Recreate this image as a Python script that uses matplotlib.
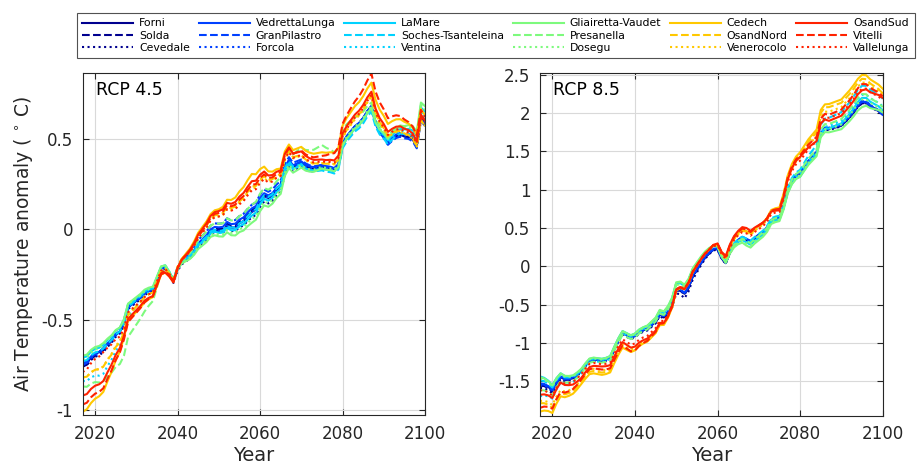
import numpy as np
import matplotlib
matplotlib.use("Agg")
import matplotlib.pyplot as plt
from matplotlib.ticker import FormatStrFormatter

plt.rcParams["font.family"] = ["DejaVu Sans"]
plt.rcParams["axes.unicode_minus"] = False

years = np.arange(2017, 2101)

glaciers = ["Forni", "Solda", "Cevedale",
            "VedrettaLunga", "GranPilastro", "Forcola",
            "LaMare", "Soches-Tsanteleina", "Ventina",
            "Gliairetta-Vaudet", "Presanella", "Dosegu",
            "Cedech", "OsandNord", "Venerocolo",
            "OsandSud", "Vitelli", "Vallelunga"]

# regional mean anomaly, one value per year 2017..2100
base_rcp45 = [
    -0.80, -0.79, -0.76, -0.74, -0.73, -0.71, -0.68, -0.655, -0.62, -0.60,
    -0.55, -0.46, -0.44, -0.42, -0.40, -0.375, -0.36, -0.35, -0.29, -0.23,
    -0.22, -0.25, -0.29, -0.22, -0.18, -0.16, -0.14, -0.11, -0.07, -0.045,
    -0.02, 0.015, 0.03, 0.03, 0.035, 0.065, 0.055, 0.06, 0.085, 0.10,
    0.13, 0.155, 0.165, 0.205, 0.23, 0.215, 0.225, 0.25, 0.265, 0.36,
    0.40, 0.37, 0.38, 0.39, 0.37, 0.36, 0.355, 0.36, 0.365, 0.36,
    0.36, 0.355, 0.38, 0.50, 0.54, 0.57, 0.60, 0.62, 0.65, 0.69,
    0.72, 0.63, 0.58, 0.55, 0.51, 0.53, 0.545, 0.55, 0.54, 0.535,
    0.52, 0.48, 0.63, 0.60]

base_rcp85 = [
    -1.67, -1.67, -1.69, -1.73, -1.62, -1.54, -1.56, -1.55, -1.53, -1.48,
    -1.42, -1.35, -1.29, -1.28, -1.29, -1.30, -1.29, -1.27, -1.15, -1.04,
    -0.95, -0.98, -1.01, -0.99, -0.94, -0.91, -0.89, -0.84, -0.79, -0.69,
    -0.70, -0.62, -0.50, -0.29, -0.27, -0.30, -0.22, -0.08, 0.00, 0.08,
    0.15, 0.20, 0.25, 0.26, 0.14, 0.08, 0.22, 0.32, 0.38, 0.42,
    0.40, 0.37, 0.42, 0.46, 0.50, 0.56, 0.66, 0.68, 0.69, 0.85,
    1.07, 1.20, 1.28, 1.32, 1.40, 1.48, 1.54, 1.60, 1.85, 1.92,
    1.92, 1.94, 1.96, 1.98, 2.04, 2.10, 2.17, 2.25, 2.30, 2.30,
    2.25, 2.22, 2.19, 2.14]

# site departures from the regional mean at reference years
anchor_rcp45 = [2017, 2022, 2027, 2032, 2037, 2045, 2050, 2058, 2065, 2075, 2087, 2100]
dev_rcp45 = {
    "Forni":              [0.05, 0.05, 0.03, 0.02, 0.01, -0.02, -0.04, -0.06, -0.03, -0.02, -0.04, -0.01],
    "Solda":              [0.04, 0.04, 0.03, 0.02, 0.01, -0.01, -0.03, -0.05, -0.02, -0.02, -0.04, -0.02],
    "Cevedale":           [0.04, 0.03, 0.02, 0.01, 0.00, -0.03, -0.05, -0.09, -0.06, -0.03, -0.05, -0.02],
    "VedrettaLunga":      [0.06, 0.05, 0.03, 0.02, 0.01, -0.01, -0.02, -0.04, -0.02, -0.01, -0.04, 0.00],
    "GranPilastro":       [0.05, 0.05, 0.03, 0.02, 0.01, 0.01, 0.00, -0.02, 0.00, -0.01, -0.05, -0.03],
    "Forcola":            [0.05, 0.04, 0.03, 0.02, 0.01, -0.02, -0.04, -0.06, -0.03, -0.02, -0.04, -0.01],
    "LaMare":             [0.09, 0.07, 0.05, 0.03, 0.02, -0.02, -0.05, -0.08, -0.04, -0.03, -0.05, 0.05],
    "Soches-Tsanteleina": [0.07, 0.05, 0.03, 0.03, 0.01, -0.01, -0.04, -0.06, -0.02, -0.04, -0.07, 0.02],
    "Ventina":            [-0.04, -0.09, -0.03, 0.01, 0.01, -0.02, -0.05, -0.08, -0.04, -0.03, -0.05, 0.03],
    "Gliairetta-Vaudet":  [0.10, 0.08, 0.05, 0.04, 0.02, -0.04, -0.07, -0.12, -0.07, -0.03, -0.05, 0.08],
    "Presanella":         [-0.07, -0.13, -0.15, -0.08, 0.00, 0.01, 0.00, -0.02, 0.02, 0.10, -0.02, 0.06],
    "Dosegu":             [0.08, 0.07, 0.05, 0.03, 0.02, -0.03, -0.06, -0.10, -0.05, -0.02, -0.04, 0.06],
    "Cedech":             [-0.21, -0.19, -0.05, -0.03, -0.02, 0.05, 0.08, 0.15, 0.07, 0.06, 0.09, 0.03],
    "OsandNord":          [-0.02, -0.05, -0.02, 0.00, 0.00, 0.03, 0.05, 0.08, 0.04, 0.00, 0.02, -0.03],
    "Venerocolo":         [-0.02, -0.05, -0.01, 0.00, 0.00, 0.03, 0.04, 0.07, 0.03, 0.00, 0.01, -0.03],
    "OsandSud":           [-0.12, -0.13, -0.04, -0.02, -0.02, 0.04, 0.07, 0.11, 0.06, 0.02, 0.04, 0.00],
    "Vitelli":            [-0.17, -0.17, -0.06, -0.03, -0.01, 0.03, 0.06, 0.09, 0.05, 0.04, 0.14, 0.02],
    "Vallelunga":         [0.01, 0.03, 0.00, 0.00, 0.00, 0.02, 0.04, 0.06, 0.03, 0.01, 0.02, -0.01],
}

anchor_rcp85 = [2017, 2022, 2027, 2032, 2040, 2046, 2052, 2058, 2067, 2075, 2080, 2087, 2095, 2100]
dev_rcp85 = {
    "Forni":              [0.13, 0.09, 0.05, 0.07, 0.08, 0.06, -0.06, -0.03, -0.05, -0.07, -0.10, -0.12, -0.16, -0.15],
    "Solda":              [0.11, 0.08, 0.05, 0.06, 0.07, 0.05, -0.07, -0.03, -0.05, -0.07, -0.11, -0.13, -0.17, -0.16],
    "Cevedale":           [0.08, 0.06, 0.04, 0.05, 0.06, 0.04, -0.12, -0.04, -0.06, -0.08, -0.12, -0.14, -0.17, -0.17],
    "VedrettaLunga":      [0.14, 0.10, 0.06, 0.07, 0.08, 0.07, -0.05, -0.02, -0.04, -0.06, -0.10, -0.12, -0.15, -0.16],
    "GranPilastro":       [0.13, 0.09, 0.05, 0.07, 0.08, 0.07, -0.05, -0.02, -0.04, -0.06, -0.09, -0.11, -0.14, -0.15],
    "Forcola":            [0.12, 0.09, 0.05, 0.06, 0.08, 0.06, -0.06, -0.03, -0.05, -0.07, -0.10, -0.12, -0.15, -0.16],
    "LaMare":             [0.23, 0.14, 0.07, 0.09, 0.11, 0.11, 0.05, 0.03, -0.09, -0.08, -0.15, -0.12, -0.10, -0.10],
    "Soches-Tsanteleina": [0.18, 0.12, 0.06, 0.08, 0.10, 0.10, 0.04, 0.02, -0.04, -0.03, -0.06, 0.02, 0.06, 0.05],
    "Ventina":            [-0.03, 0.02, 0.02, 0.05, 0.09, 0.09, 0.04, 0.02, -0.07, -0.06, -0.12, -0.09, -0.06, -0.05],
    "Gliairetta-Vaudet":  [0.22, 0.14, 0.08, 0.09, 0.11, 0.12, 0.06, 0.04, -0.13, -0.10, -0.15, -0.17, -0.22, -0.13],
    "Presanella":         [0.05, 0.04, 0.02, 0.04, 0.06, 0.07, 0.03, 0.02, -0.07, -0.05, -0.08, -0.06, -0.05, -0.06],
    "Dosegu":             [0.20, 0.13, 0.07, 0.08, 0.10, 0.11, 0.05, 0.03, -0.10, -0.08, -0.13, -0.13, -0.12, -0.11],
    "Cedech":             [-0.23, -0.16, -0.12, -0.12, -0.11, -0.08, 0.00, 0.02, 0.06, 0.08, 0.17, 0.20, 0.20, 0.18],
    "OsandNord":          [-0.12, -0.12, -0.09, -0.09, -0.10, -0.07, 0.00, 0.02, 0.05, 0.07, 0.14, 0.16, 0.15, 0.12],
    "Venerocolo":         [-0.09, -0.08, -0.06, -0.06, -0.08, -0.06, 0.01, 0.02, 0.04, 0.05, 0.10, 0.10, 0.10, 0.10],
    "OsandSud":           [-0.01, 0.02, -0.04, -0.01, -0.06, -0.05, 0.00, 0.02, 0.10, 0.04, 0.11, -0.02, 0.00, 0.06],
    "Vitelli":            [-0.18, -0.10, -0.06, -0.05, -0.11, -0.06, 0.01, 0.02, 0.08, 0.06, 0.13, 0.06, 0.08, 0.08],
    "Vallelunga":         [0.05, 0.03, 0.01, 0.02, -0.02, -0.02, 0.00, 0.01, 0.03, 0.02, 0.06, 0.02, 0.02, 0.03],
}

group_colors = ["#00008f", "#0040ff", "#00d2ff", "#7dfa7d", "#ffc800", "#ff2200"]
line_styles = ["-", "--", ":"]

fig = plt.figure(figsize=(9.21, 4.67), dpi=100)
ax1 = fig.add_axes([0.0898, 0.1113, 0.3717, 0.7330])
ax2 = fig.add_axes([0.5863, 0.1099, 0.3721, 0.7345])

panels = [
    (ax1, base_rcp45, anchor_rcp45, dev_rcp45, "RCP 4.5", (2017, 2100), (-1.028, 0.865),
     [-1, -0.5, 0, 0.5]),
    (ax2, base_rcp85, anchor_rcp85, dev_rcp85, "RCP 8.5", (2017, 2100), (-1.953, 2.53),
     [-1.5, -1, -0.5, 0, 0.5, 1, 1.5, 2, 2.5]),
]

edge = "#262626"
for ax, base, anchors, dev, title, xl, yl, yt in panels:
    base = np.asarray(base)
    for i, name in enumerate(glaciers):
        series = base + np.interp(years, anchors, dev[name])
        ax.plot(years, series, color=group_colors[i // 3], ls=line_styles[i % 3],
                lw=1.5, label=name)
    ax.set_xlim(*xl)
    ax.set_ylim(*yl)
    ax.set_xticks([2020, 2040, 2060, 2080, 2100])
    ax.set_yticks(yt)
    ax.yaxis.set_major_formatter(FormatStrFormatter("%g"))
    ax.grid(True, color="#d9d9d9", lw=0.8)
    ax.set_axisbelow(True)
    ax.tick_params(direction="in", length=4, width=0.8, colors=edge, labelsize=12,
                   top=True, right=True, pad=7, labelcolor=edge)
    for sp in ax.spines.values():
        sp.set_color(edge)
        sp.set_linewidth(0.8)
    ax.set_xlabel("Year", fontsize=14, color=edge, labelpad=2)
    ax.text(0.038, 0.975, title, transform=ax.transAxes, fontsize=12.5,
            ha="left", va="top", color="black")

ax1.set_ylabel("Air Temperature anomaly ( $^{\\circ}$ C)", fontsize=13.5, color=edge,
               labelpad=4)

handles, labels = ax1.get_legend_handles_labels()
leg = fig.legend(handles, labels, ncol=6, loc="upper left",
                 bbox_to_anchor=(77 / 921, 1 - 13 / 467), frameon=True,
                 fancybox=False, fontsize=7.8, handlelength=4.7, handletextpad=0.55,
                 columnspacing=0.8, labelspacing=0.2, borderpad=0.5,
                 borderaxespad=0)
leg.get_frame().set_edgecolor(edge)
leg.get_frame().set_linewidth(0.8)

fig.savefig("out.png", dpi=100)
